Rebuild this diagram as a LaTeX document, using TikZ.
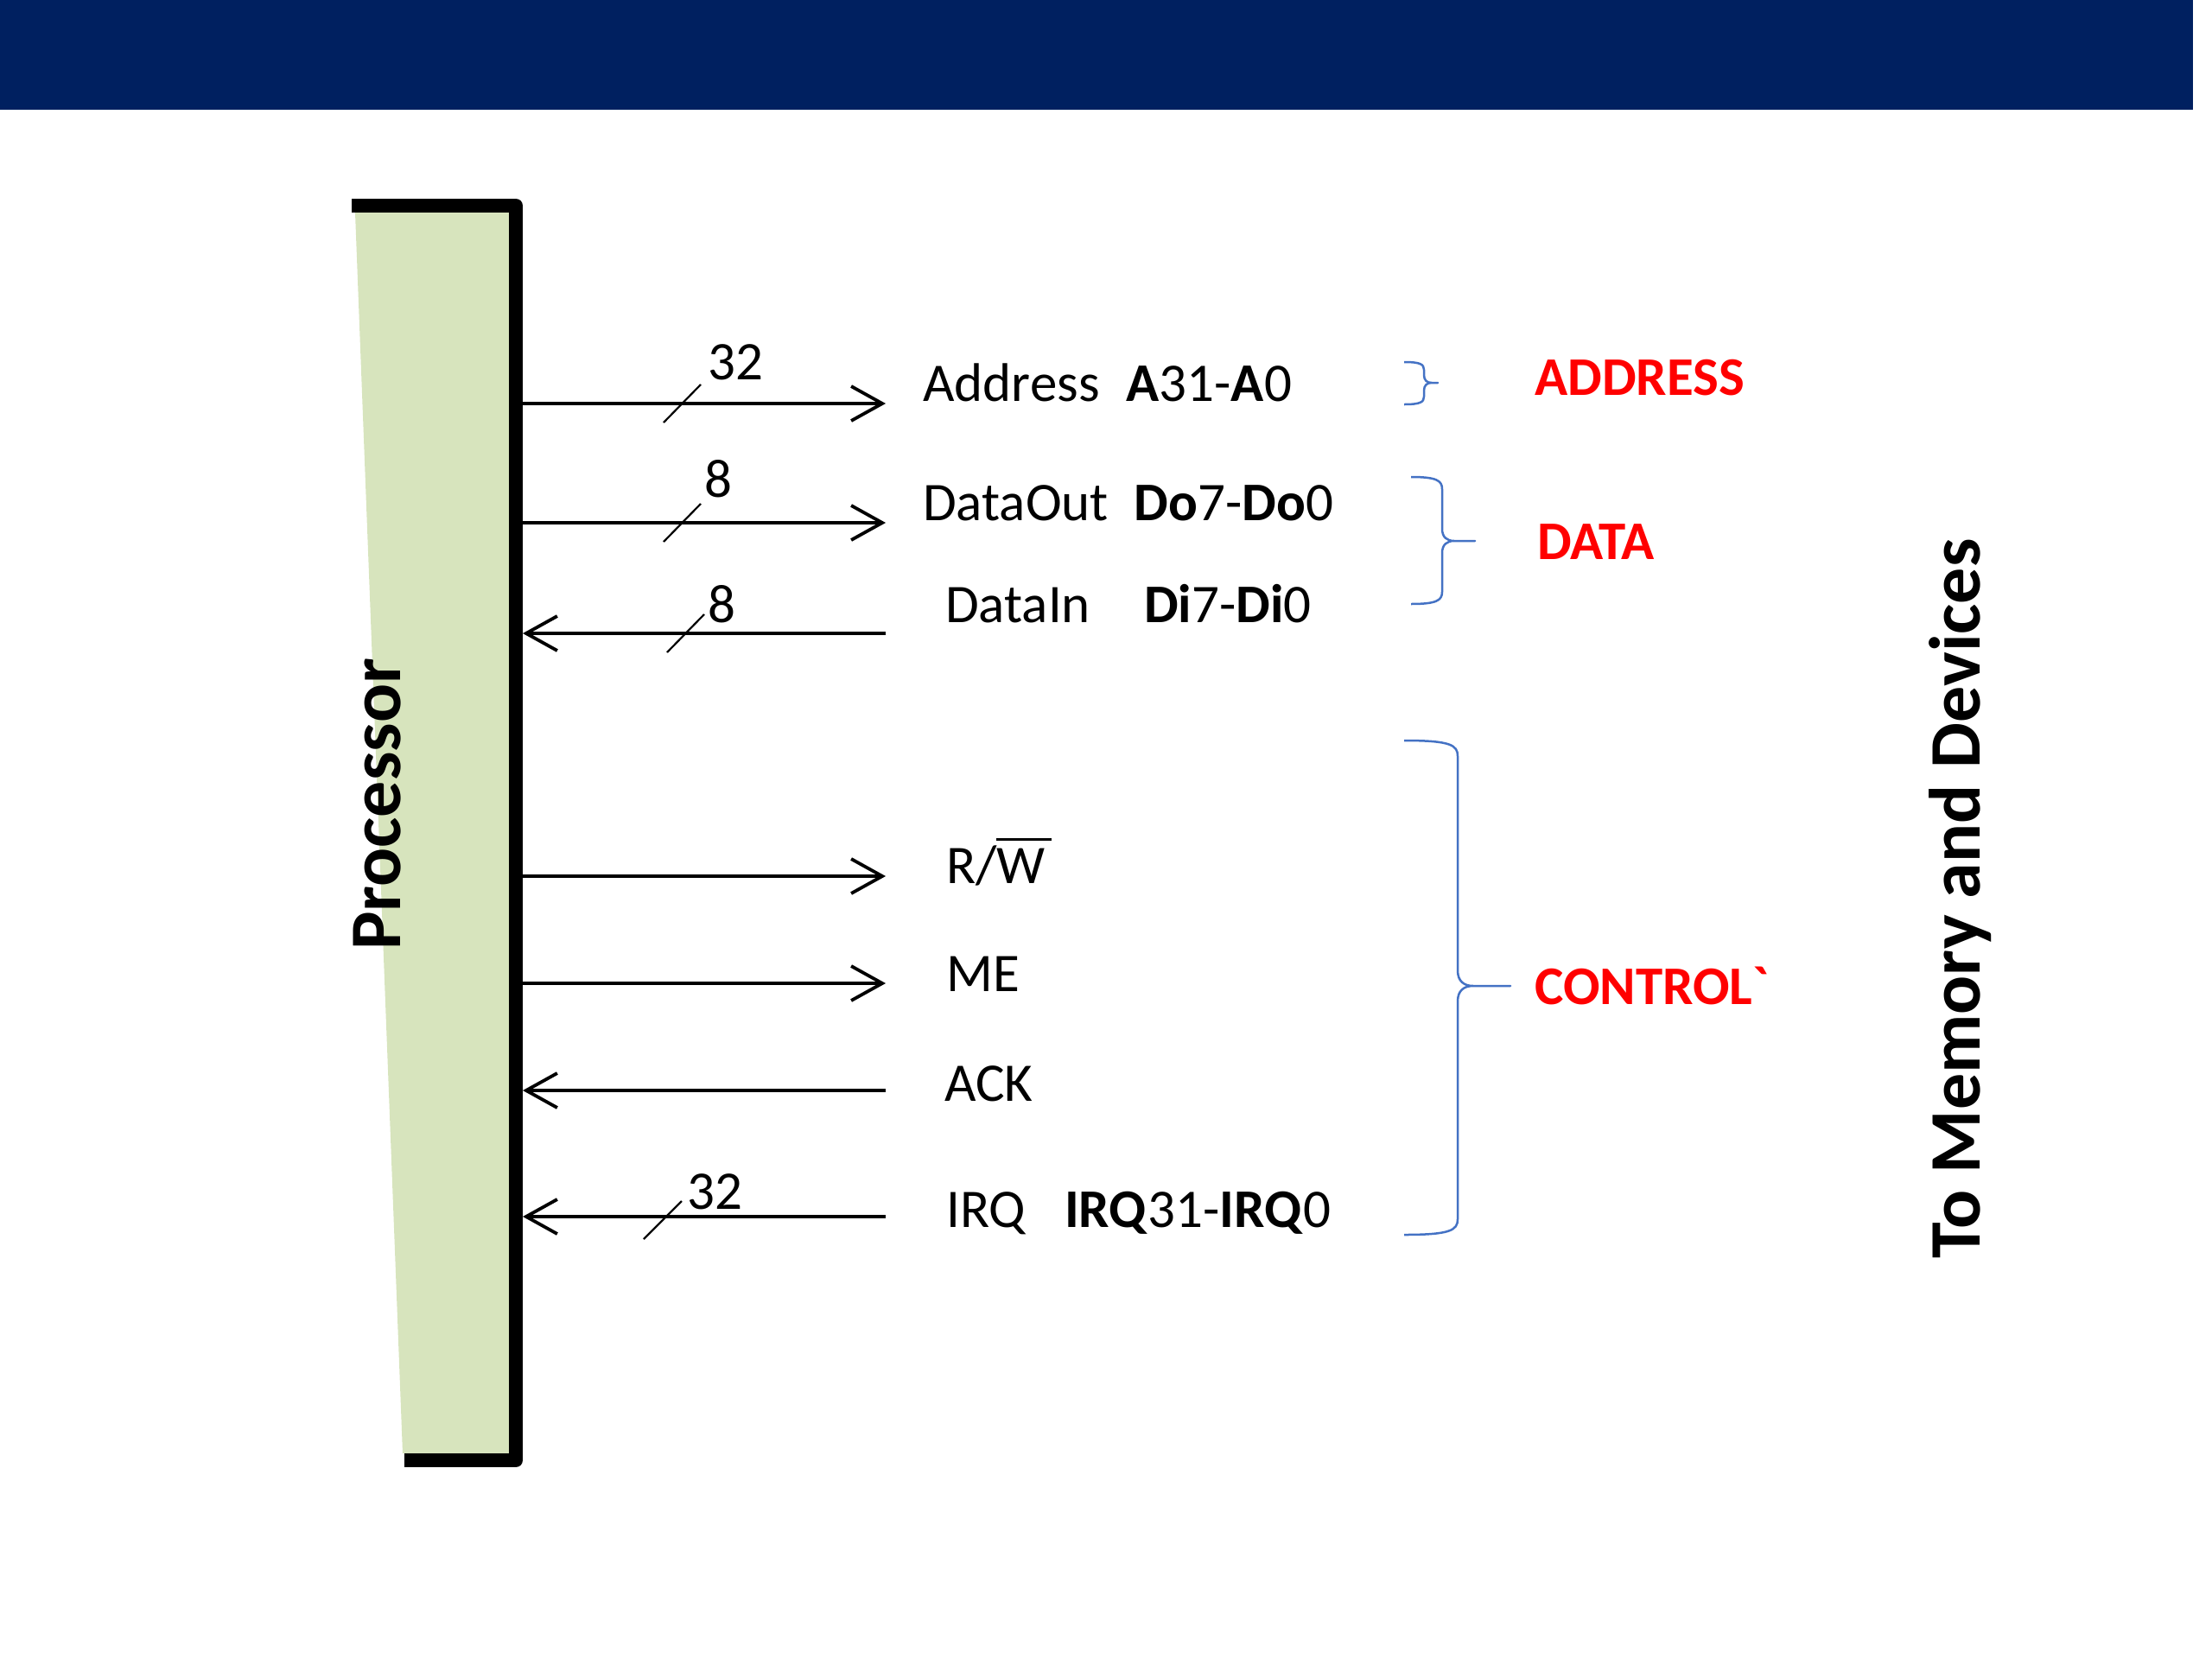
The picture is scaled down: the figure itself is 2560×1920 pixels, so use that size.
\documentclass[tikz,border=0pt]{standalone}
\usepackage{fontspec}
\setmainfont{Carlito}
\newfontfamily\plaincal{Carlito}
\usetikzlibrary{arrows.meta}
\definecolor{navy}{RGB}{0,32,96}
\definecolor{procgreen}{RGB}{215,228,189}
\definecolor{bracecol}{RGB}{68,114,196}
\newcommand{\mybrace}[7]{%
  \draw[brace] (#1,#4) .. controls ({#2-0.45*#7},#4) and (#2,{#4+0.3*#7}) .. (#2,{#4+#7})
    -- (#2,{#5-#7}) .. controls (#2,{#5-0.3*#7}) and ({#2+0.4*#7},#5) .. ({#2+#7},#5) -- (#3,#5)
    -- ({#2+#7},#5) .. controls ({#2+0.4*#7},#5) and (#2,{#5+0.3*#7}) .. (#2,{#5+#7})
    -- (#2,{#6-#7}) .. controls (#2,{#6-0.3*#7}) and ({#2-0.45*#7},#6) .. (#1,#6);}
\tikzset{
  sig/.style={line width=3.8pt, draw=black},
  arr/.style={sig, -{Straight Barb[length=36pt,width=40pt]}},
  slashmark/.style={line width=2.2pt, draw=black},
  lbl/.style={anchor=base west, inner sep=0pt, font=\fontsize{63}{76}\selectfont},
  grp/.style={anchor=base west, inner sep=0pt, text=red, font=\fontsize{63}{76}\selectfont\bfseries},
  brace/.style={draw=bracecol, line width=2.5pt, line join=round},
  bigtext/.style={anchor=base west, inner sep=0pt, rotate=90, font=\fontsize{84}{100}\selectfont\bfseries},
}
\begin{document}
\begin{tikzpicture}[x=1pt,y=-1pt]
\useasboundingbox (0,0) rectangle (2560,1920);
% banner
\fill[navy] (0,0) rectangle (2538,127);
% processor
\fill[procgreen] (411,246) -- (589,246) -- (589,1682) -- (466,1682) -- cycle;
\draw[line width=16pt, line join=round] (407,238) -- (597,238) -- (597,1690) -- (468,1690);
\node[bigtext] (proc) at (463,1100) {Processor};
% coordinates on processor edge and far ends
\foreach \n/\y in {A/467, DO/605, DI/733, RW/1014, ME/1138, ACK/1262, IRQ/1408}{
  \coordinate (p\n) at (605,\y);
  \coordinate (e\n) at (1025,\y);
}
\draw[arr] (pA) -- (eA);
\draw[arr] (pDO) -- (eDO);
\draw[arr] (eDI) -- (pDI);
\draw[arr] (pRW) -- (eRW);
\draw[arr] (pME) -- (eME);
\draw[arr] (eACK) -- (pACK);
\draw[arr] (eIRQ) -- (pIRQ);
% bus width slashes
\coordinate (sA1) at (768,489); \coordinate (sA2) at (811,445);
\coordinate (sDO1) at (768,627); \coordinate (sDO2) at (811,583);
\coordinate (sDI1) at (772,755); \coordinate (sDI2) at (815,711);
\coordinate (sIRQ1) at (745,1434); \coordinate (sIRQ2) at (789,1390);
\draw[slashmark] (sA1) -- (sA2);
\draw[slashmark] (sDO1) -- (sDO2);
\draw[slashmark] (sDI1) -- (sDI2);
\draw[slashmark] (sIRQ1) -- (sIRQ2);
\node[lbl] (nA) at (819,439) {32};
\node[lbl] (nDO) at (815,575) {8};
\node[lbl] (nDI) at (819,720) {8};
\node[lbl] (nIRQ) at (795,1399) {32};
% signal labels
\node[lbl] (tA) at (1068,464) {Address\hspace{31pt}\textbf{A}31-\textbf{A}0};
\node[lbl] (tDO) at (1068,602) {DataOut\hspace{30pt}\textbf{Do}7-\textbf{Do}0};
\node[lbl] (tDI) at (1094,720) {DataIn\hspace{62pt}\textbf{Di}7-\textbf{Di}0};
\node[lbl] (tRW) at (1095,1022) {R/\rlap{\hspace{-1pt}\rule[49pt]{64pt}{3pt}}W};
\node[lbl] (tME) at (1095,1147) {ME};
\node[lbl] (tACK) at (1093,1274) {ACK};
\node[lbl] (tIRQ) at (1095,1420) {IRQ\hspace{44pt}\textbf{IRQ}31-\textbf{IRQ}0};
% braces
\mybrace{1625}{1648}{1664}{419}{443}{468}{9}
\mybrace{1633}{1669}{1707}{552}{626}{699}{14}
\mybrace{1625}{1687}{1748}{857}{1141}{1429}{18}
% group labels
\node[grp] (gA) at (1776,457) {ADDRESS};
\node[grp] (gD) at (1779,647) {DATA};
\node[grp] (gC) at (1776,1162) {CONTROL{\plaincal`}};
\node[bigtext] (mem) at (2291,1457) {To Memory and Devices};
\end{tikzpicture}
\end{document}
